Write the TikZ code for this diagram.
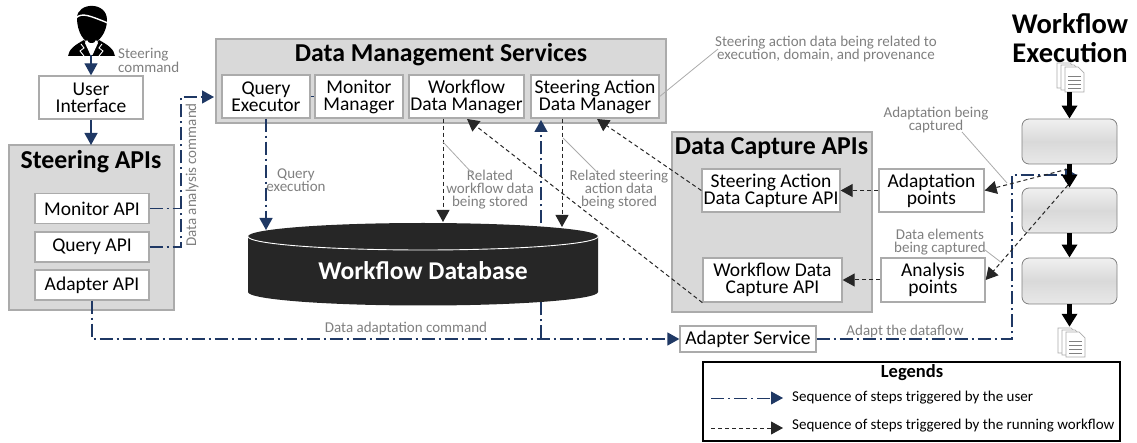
\documentclass[tikz,border=0pt]{standalone}
\usepackage{fontspec}
\setmainfont{Carlito}
\usepackage{xcolor}
\usetikzlibrary{positioning, arrows.meta, shapes.geometric}

\definecolor{panelgray}{HTML}{D9D9D9}
\definecolor{edgegray}{HTML}{ABABAB}
\definecolor{notegray}{HTML}{7F7F7F}
\definecolor{userblue}{HTML}{1F3864}
\definecolor{darkdb}{HTML}{262626}

\tikzset{
    panel/.style={draw=edgegray, fill=panelgray, line width=1.3pt, inner sep=0pt},
    innerbox/.style={draw=edgegray, fill=white, line width=1.3pt, inner sep=0pt, align=center, font=\fontsize{19.5}{17}\selectfont},
    paneltitle/.style={inner sep=0pt, align=center, font=\fontsize{25.8}{29}\selectfont\bfseries},
    note/.style={inner sep=0pt, align=center, text=notegray, font=\fontsize{15}{13}\selectfont},
    leader/.style={draw=edgegray, line width=0.8pt},
    userline/.style={draw=userblue, line width=1.3pt, dash pattern=on 13pt off 4pt on 2pt off 4pt, -{Triangle[length=12pt, width=13pt, fill=userblue]}},
    userstub/.style={draw=userblue, line width=1.3pt, dash pattern=on 13pt off 4pt on 2pt off 4pt},
    flowline/.style={draw=darkdb, line width=1pt, dash pattern=on 4pt off 3pt, -{Triangle[length=12pt, width=13pt, fill=darkdb]}},
    runline/.style={draw=black, line width=4.5pt, -{Triangle[length=13pt, width=15pt, fill=black]}},
    stepbox/.style={draw=gray, rounded corners=7pt, line width=0.8pt, top color=gray!12, bottom color=gray!18, middle color=panelgray, minimum width=95, minimum height=45, inner sep=0pt},
    docstack/.pic={
        \foreach \dx/\dy in {-8/-4, -4/-2, 0/0} {
            \draw[fill=white, draw=edgegray, line width=0.7pt] (\dx-9,\dy-10) -- (\dx+4,\dy-10) -- (\dx+10,\dy-4) -- (\dx+10,\dy+15) -- (\dx-9,\dy+15) -- cycle;
        }
        \foreach \dy in {0,4,8,12} {
            \draw[gray, line width=0.6pt] (-6,\dy-1) -- (7,\dy-1);
        }
    }
}

\begin{document}
\begin{tikzpicture}[x=1pt, y=-1pt]
    \useasboundingbox (0,0) rectangle (1137,443);

    % user figure
    \fill[black] (77,18) .. controls (77,2) and (107,1) .. (107,20) .. controls (107,32) and (99,43) .. (91.5,43) .. controls (84,43) and (77,32) .. (77,18) -- cycle;
    \draw[white, line width=1.4pt] (76,18) .. controls (82,12) and (90,16) .. (108,23);
    \fill[black] (68,56) .. controls (69,49) and (75,45) .. (84,40) -- (91.5,50) -- (99,40) .. controls (108,45) and (114,49) .. (115,56) -- cycle;
    \fill[white] (87,40) -- (91.5,47) -- (96,40) -- (98,43) -- (92.5,55) -- (90.5,55) -- (85,43) -- cycle;
    \draw[white, line width=0.9pt] (81,44) -- (84,48) -- (80,51) -- (84,56);
    \draw[white, line width=0.9pt] (102,44) -- (99,48) -- (103,51) -- (99,56);
    \coordinate (user) at (91,55);

    % left column
    \node[innerbox, minimum width=104, minimum height=43] (ui) at (91,97.5) {User\\Interface};
    \node[panel, minimum width=165, minimum height=165] (steering) at (91.5,227.5) {};
    \node[paneltitle] (steeringtitle) at (91,162) {Steering APIs};
    \node[innerbox, minimum width=114, minimum height=30] (monitorapi) at (92,208.5) {Monitor API};
    \node[innerbox, minimum width=114, minimum height=30] (queryapi) at (92,247) {Query API};
    \node[innerbox, minimum width=114, minimum height=30] (adapterapi) at (92,285) {Adapter API};

    % data management services
    \node[panel, minimum width=450, minimum height=84] (dms) at (441,81) {};
    \node[paneltitle] (dmstitle) at (441,55) {Data Management Services};
    \node[innerbox, minimum width=88, minimum height=43] (queryexec) at (266,96.5) {Query\\Executor};
    \node[innerbox, minimum width=88, minimum height=43] (monitormgr) at (359,96.5) {Monitor\\Manager};
    \node[innerbox, minimum width=115, minimum height=43] (wfmanager) at (466.5,96.5) {Workflow\\Data Manager};
    \node[innerbox, minimum width=128, minimum height=43] (samanager) at (595,96.5) {Steering Action\\Data Manager};

    % data capture
    \node[panel, minimum width=200, minimum height=180] (capture) at (772,222) {};
    \node[paneltitle] (capturetitle) at (771.5,148) {Data Capture APIs};
    \node[innerbox, minimum width=138, minimum height=43] (sacapture) at (771,190.5) {Steering Action\\Data Capture API};
    \node[innerbox, minimum width=139, minimum height=44] (wfcapture) at (772.5,280) {Workflow Data\\Capture API};
    \node[innerbox, minimum width=105, minimum height=43] (adaptpts) at (931.5,190.5) {Adaptation\\points};
    \node[innerbox, minimum width=104, minimum height=44] (analysispts) at (933,280) {Analysis\\points};
    \node[innerbox, minimum width=136, minimum height=26] (adaptersvc) at (748,339) {Adapter Service};

    % workflow execution
    \node[paneltitle, font=\fontsize{28.5}{29}\selectfont\bfseries] (wftitle) at (1070,38.5) {Workflow\\Execution};
    \node[stepbox, minimum height=45] (step1) at (1069.5,141.5) {};
    \node[stepbox, minimum height=45] (step2) at (1069.5,210.5) {};
    \node[stepbox, minimum height=46] (step3) at (1069.5,281) {};
    \node[minimum width=27, minimum height=29, inner sep=0pt] (docin) at (1069.5,77.5) {};
    \node[minimum width=29, minimum height=30, inner sep=0pt] (docout) at (1069.5,342) {};
    \pic at (1074,77) {docstack};
    \pic at (1075,342) {docstack};

    \coordinate (bendup) at (181,97);
    \coordinate (dmsin) at (214,97);
    \coordinate (branch) at (541,338.5);
    \coordinate (dmsup) at (541,120);
    \coordinate (execturn) at (1012,339);
    \coordinate (execup) at (1012,175);
    \coordinate (exectip) at (1077,175);

    % user triggered steps
    \draw[userline] (user) -- (ui.north);
    \draw[userline] (ui.south) -- (91,145);
    \draw[userstub] (monitorapi.east) -- (monitorapi.east -| bendup);
    \draw[userline] (queryapi.east) -| (bendup) -- (dmsin);
    \draw[userstub] (queryexec.east) -- (monitormgr.west);
    \draw[userline] (branch) -- (dmsup);
    \draw[userline] (adapterapi.south) |- (adaptersvc.west);
    \draw[userline] (adaptersvc.east) -- (execturn) -- (execup) -- (exectip);

    % workflow database
    \node[minimum width=350, minimum height=27, inner sep=0pt, ellipse] (dbtop) at (423,236.5) {};
    \fill[darkdb] (248,236.5) arc[start angle=180, end angle=360, x radius=175, y radius=13.5] -- (598,292) arc[start angle=0, end angle=180, x radius=175, y radius=13.5] -- cycle;
    \draw[white, line width=0.9pt] (248,236.5) arc[start angle=180, end angle=0, x radius=175, y radius=13.5];
    \node[inner sep=0pt, text=white, font=\fontsize{25.6}{29}\selectfont\bfseries] (dblabel) at (423,271) {Workflow Database};
    \coordinate (dbquery) at (266,230);
    \coordinate (dbwf) at (443,222);
    \coordinate (dbsteer) at (562,227);

    \draw[userline] (queryexec.south) -- (dbquery);
    \draw[flowline] (wfmanager.south -| dbwf) -- (dbwf);
    \draw[flowline] (samanager.south -| dbsteer) -- (dbsteer);

    % running workflow steps
    \coordinate (execout) at (1068,169);
    \coordinate (execoutb) at (1068,185);
    \coordinate (satip) at (597,119);
    \coordinate (wftip) at (467,119);
    \draw[flowline] (adaptpts.west) -- (sacapture.east);
    \draw[flowline] (analysispts.west) -- (wfcapture.east);
    \draw[flowline] (sacapture.west) -- (satip);
    \draw[flowline] (wfcapture.south west) -- (wftip);
    \draw[flowline] (execout) -- (adaptpts.east);
    \draw[flowline] (execoutb) -- (analysispts.east);

    \draw[runline] (docin.south) -- (step1.north);
    \draw[runline] (step1.south) -- (step2.north);
    \draw[runline] (step2.south) -- (step3.north);
    \draw[runline] (step3.south) -- (docout.north);

    % grey notes
    \node[note, align=left, anchor=west, font=\fontsize{15}{14}\selectfont] (steercmd) at (118,60) {Steering\\command};
    \node[note, rotate=90] (analysiscmd) at (192,175) {Data analysis command};
    \node[note] (queryexecnote) at (296,180) {Query\\execution};
    \node[note] (wfnote) at (490,190) {Related\\workflow data\\being stored};
    \node[note] (sanote) at (619,190) {Related steering\\action data\\being stored};
    \node[note] (relatednote) at (826,49) {Steering action data being related to\\execution, domain, and provenance};
    \node[note] (adaptnote) at (936,120.5) {Adaptation being\\captured};
    \node[note] (datanote) at (940,242.5) {Data elements\\being captured};
    \node[note] (adaptcmd) at (406,329) {Data adaptation command};
    \node[note] (adaptflow) at (905,332) {Adapt the dataflow};

    \draw[leader] (samanager.east) -- (718,49);
    \draw[leader] (443,142) -- (472,173);
    \draw[leader] (563,138) -- (598,173);
    \draw[leader] (962,132) -- (1007,183);
    \draw[leader] (985,250) -- (1002,263);

    % legend
    \node[draw=black, line width=1.3pt, minimum width=417, minimum height=79, inner sep=0pt] (legend) at (911.5,401.5) {};
    \node[inner sep=0pt, font=\fontsize{18.5}{18}\selectfont\bfseries] (legendtitle) at (912,373) {Legends};
    \node[inner sep=0pt, anchor=west, font=\fontsize{15}{15}\selectfont] (legenduser) at (792,398) {Sequence of steps triggered by the user};
    \node[inner sep=0pt, anchor=west, font=\fontsize{15}{15}\selectfont] (legendrun) at (792,426) {Sequence of steps triggered by the running workflow};
    \coordinate (legendua) at (711,398);
    \coordinate (legendub) at (783,398);
    \coordinate (legendra) at (711,428);
    \coordinate (legendrb) at (783,428);
    \draw[userline, line width=0.8pt] (legendua) -- (legendub);
    \draw[flowline, line width=0.8pt] (legendra) -- (legendrb);
\end{tikzpicture}
\end{document}
